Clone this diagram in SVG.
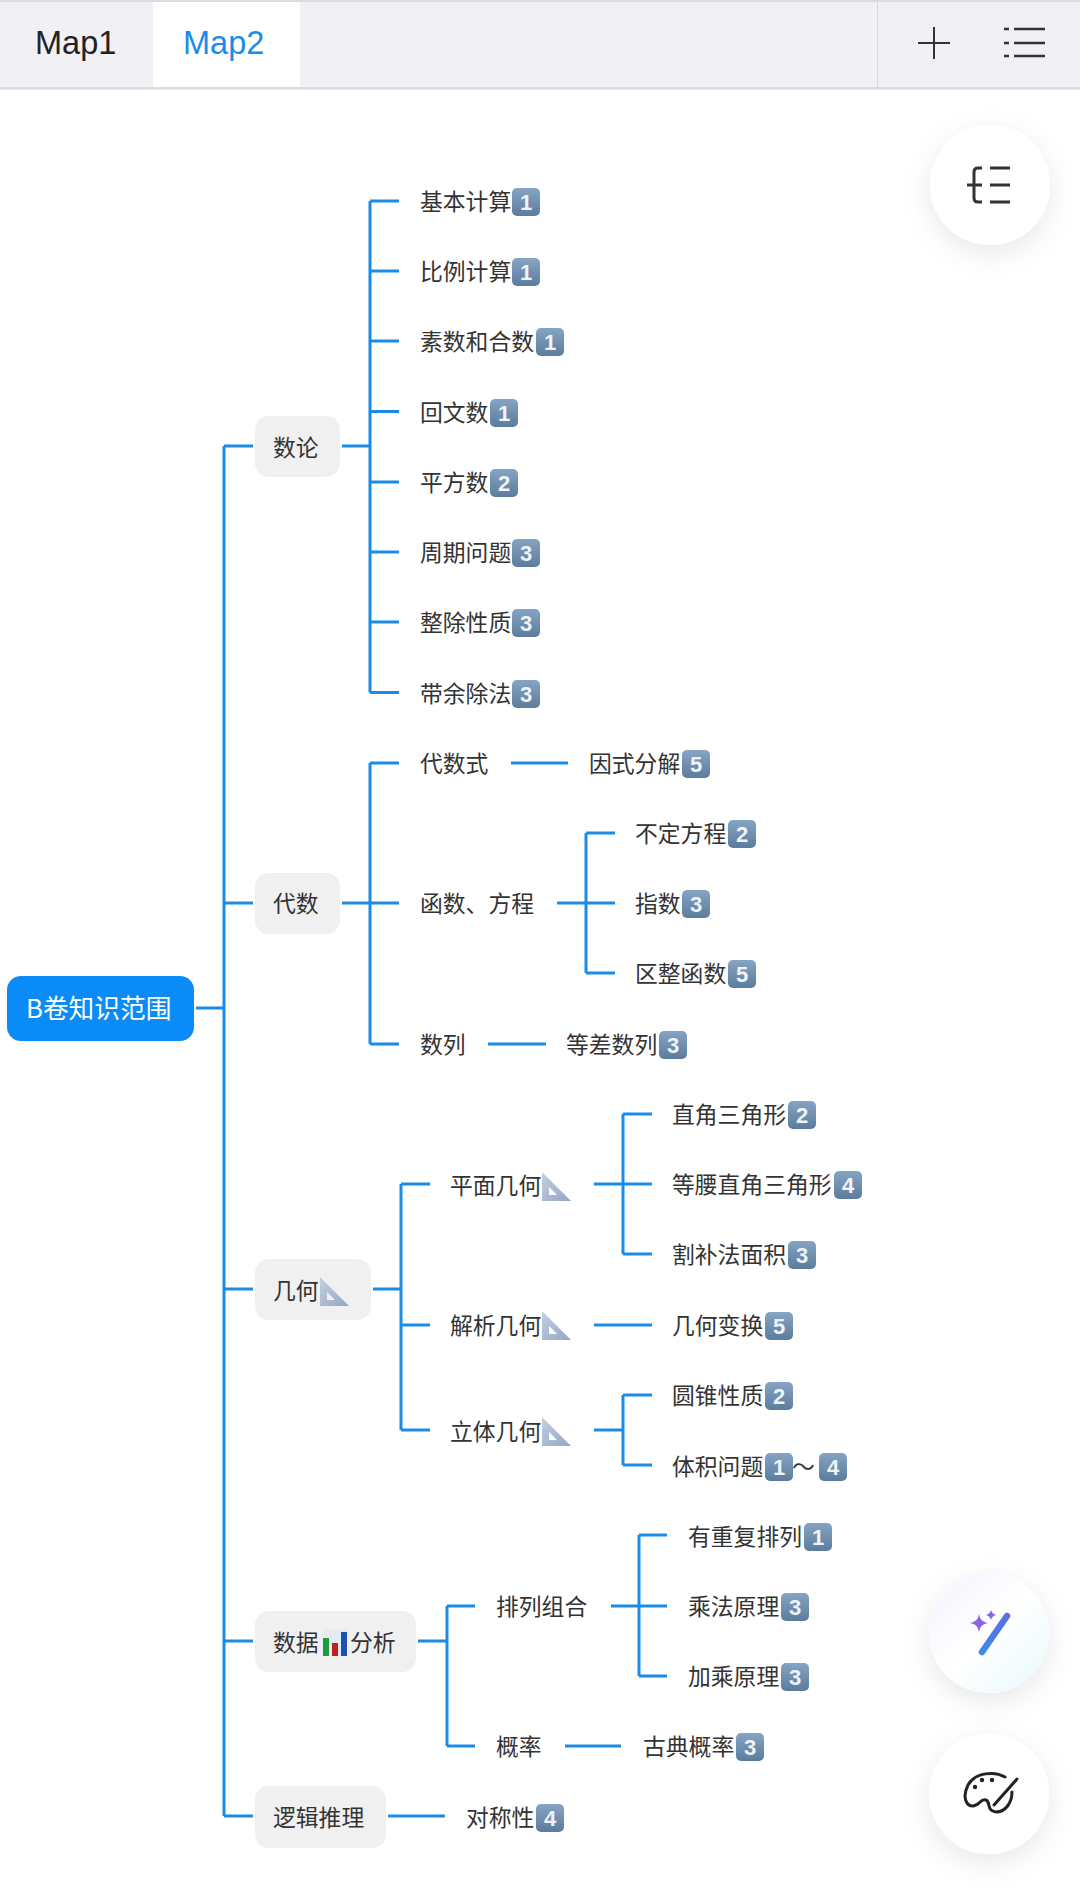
<svg xmlns="http://www.w3.org/2000/svg" width="1080" height="1886" viewBox="0 0 1080 1886">
<style>
.t{font-family:"Noto Sans CJK SC","Liberation Sans",sans-serif;font-size:22.8px;fill:#333;transform:translateY(.7px)}
.d{font-family:"Liberation Sans",Arial,sans-serif;font-size:22px;font-weight:700;fill:#eef3f8;text-anchor:middle;transform:translate(1px,.5px)}
.b{fill:#f0f0f0}
.c{fill:none;stroke:#1a8ce8;stroke-width:3}
.ic{fill:none;stroke:#333;stroke-width:3}
.tab{font-family:"Liberation Sans",Arial,sans-serif;font-size:32.5px}
</style>
<defs>
<linearGradient id="kg" x1="0" y1="0" x2="0" y2="1"><stop offset="0" stop-color="#86a4c3"/><stop offset="1" stop-color="#5c7c9d"/></linearGradient>
<linearGradient id="tg" x1="0" y1="0" x2="1" y2="1"><stop offset="0" stop-color="#c5cfe0"/><stop offset="1" stop-color="#95a5c6"/></linearGradient>
<linearGradient id="wg" x1="0" y1="0" x2="1" y2="1"><stop offset="0" stop-color="#f6f2fd"/><stop offset="0.5" stop-color="#ffffff"/><stop offset="1" stop-color="#e8f8fc"/></linearGradient>
<linearGradient id="sg" x1="0" y1="0" x2="0" y2="1"><stop offset="0" stop-color="#5b6fe0"/><stop offset="1" stop-color="#3f8ae8"/></linearGradient>
<filter id="sh" x="-40%" y="-40%" width="180%" height="180%"><feDropShadow dx="0" dy="8" stdDeviation="14" flood-color="#000" flood-opacity="0.09"/></filter>
<rect id="key" x="1" width="28" height="28" rx="5" fill="url(#kg)"/>
<path id="tri" d="M0 0L29 29H0ZM7 15V23H15Z" fill="url(#tg)" fill-rule="evenodd"/>
</defs>
<rect width="1080" height="1886" fill="#fff"/>

<g id="toolbar">
<rect width="1080" height="88" fill="#f0f0f5"/>
<rect width="1080" height="2" fill="#dcdce0"/>
<rect y="87" width="1080" height="2.5" fill="#dcdcdf"/>
<rect x="153" y="2" width="147" height="85" fill="#fff"/>
<rect x="877" y="2" width="1" height="85" fill="#d8d8dc"/>
<text class="tab" x="35" y="54" fill="#222">Map1</text>
<text class="tab" x="183" y="54" fill="#1a8ce8">Map2</text>
<path class="ic" style="stroke-width:2" d="M934 27V59M918 43H950"/>
<path class="ic" style="stroke-width:2.5" d="M1014 29H1045M1014 43H1045M1014 56H1045M1004 29H1009M1004 43H1009M1004 56H1009"/>
</g>

<g id="connectors">
<path class="c" d="M196 1008H224M224 446V1816M224 446H253M224 903H253M224 1289H253M224 1641H253M224 1816H253"/>
<path class="c" d="M342 446H370M370 201V692.5M370 201H399M370 271H399M370 341H399M370 411.5H399M370 482H399M370 552H399M370 622H399M370 692.5H399"/>
<path class="c" d="M342 903H399M370 763V1044M370 763H399M370 1044H399M511 763H568M557 903H615M586 833V973M586 833H615M586 973H615M488 1044H546"/>
<path class="c" d="M373 1289H401M401 1184V1430M401 1184H430M401 1325H430M401 1430H430M594 1184H652M623 1114V1254M623 1114H652M623 1254H652M594 1325H652M594 1430H623M623 1395V1465M623 1395H652M623 1465H652"/>
<path class="c" d="M418 1641H447M447 1606V1746M447 1606H475M447 1746H475M611 1606H667M639 1535V1676M639 1535H667M639 1676H667M565 1746H621"/>
<path class="c" d="M388 1816H445"/>
</g>

<g id="root"><rect x="7" y="976" width="187" height="65" rx="14" fill="#0a8bf8"/><text x="26" y="1017.5" font-family="'Noto Sans CJK SC','Liberation Sans',sans-serif" font-size="25.7" fill="#fff">B卷知识范围</text></g>

<g id="n-shulun"><rect class="b" x="255" y="416" width="85" height="61" rx="14"/><text class="t" x="273" y="455">数论</text></g>
<g id="n-daishu"><rect class="b" x="255" y="873" width="85" height="61" rx="14"/><text class="t" x="273" y="911">代数</text></g>
<g id="n-jihe"><rect class="b" x="255" y="1259" width="116" height="61" rx="14"/><text class="t" x="273" y="1298">几何</text><use href="#tri" x="320" y="1277"/></g>
<g id="n-shuju"><rect class="b" x="255" y="1611" width="161" height="61" rx="14"/><text class="t" x="273" y="1650">数据</text>
<rect x="322" y="1629" width="25" height="27" fill="#e4ecf2"/><rect x="323" y="1638" width="6" height="18" fill="#1f9a3f"/><rect x="332" y="1643" width="6" height="13" fill="#c0201f"/><rect x="341" y="1632" width="6" height="24" fill="#1d4fb5"/>
<text class="t" x="350" y="1650">分析</text></g>
<g id="n-luoji"><rect class="b" x="255" y="1786" width="131" height="62" rx="14"/><text class="t" x="273" y="1825">逻辑推理</text></g>

<g id="a1"><text class="t" x="420" y="209">基本计算</text><use href="#key" x="511" y="188"/><text class="d" x="525" y="209">1</text></g>
<g id="a2"><text class="t" x="420" y="279">比例计算</text><use href="#key" x="511" y="258"/><text class="d" x="525" y="279">1</text></g>
<g id="a3"><text class="t" x="420" y="349">素数和合数</text><use href="#key" x="535" y="328"/><text class="d" x="549" y="349">1</text></g>
<g id="a4"><text class="t" x="420" y="420">回文数</text><use href="#key" x="489" y="399"/><text class="d" x="503" y="420">1</text></g>
<g id="a5"><text class="t" x="420" y="490">平方数</text><use href="#key" x="489" y="469"/><text class="d" x="503" y="490">2</text></g>
<g id="a6"><text class="t" x="420" y="560">周期问题</text><use href="#key" x="511" y="539"/><text class="d" x="525" y="560">3</text></g>
<g id="a7"><text class="t" x="420" y="630">整除性质</text><use href="#key" x="511" y="609"/><text class="d" x="525" y="630">3</text></g>
<g id="a8"><text class="t" x="420" y="701">带余除法</text><use href="#key" x="511" y="680"/><text class="d" x="525" y="701">3</text></g>

<g id="b1"><text class="t" x="420" y="771">代数式</text></g>
<g id="b2"><text class="t" x="589" y="771">因式分解</text><use href="#key" x="681" y="750"/><text class="d" x="695" y="771">5</text></g>
<g id="b3"><text class="t" x="420" y="911">函数、方程</text></g>
<g id="b4"><text class="t" x="635" y="841">不定方程</text><use href="#key" x="727" y="820"/><text class="d" x="741" y="841">2</text></g>
<g id="b5"><text class="t" x="635" y="911">指数</text><use href="#key" x="681" y="890"/><text class="d" x="695" y="911">3</text></g>
<g id="b6"><text class="t" x="635" y="981">区整函数</text><use href="#key" x="727" y="960"/><text class="d" x="741" y="981">5</text></g>
<g id="b7"><text class="t" x="420" y="1052">数列</text></g>
<g id="b8"><text class="t" x="566" y="1052">等差数列</text><use href="#key" x="658" y="1031"/><text class="d" x="672" y="1052">3</text></g>

<g id="c1"><text class="t" x="450" y="1193">平面几何</text><use href="#tri" x="542" y="1172"/></g>
<g id="c2"><text class="t" x="672" y="1122">直角三角形</text><use href="#key" x="787" y="1101"/><text class="d" x="801" y="1122">2</text></g>
<g id="c3"><text class="t" x="672" y="1192">等腰直角三角形</text><use href="#key" x="833" y="1171"/><text class="d" x="847" y="1192">4</text></g>
<g id="c4"><text class="t" x="672" y="1262">割补法面积</text><use href="#key" x="787" y="1241"/><text class="d" x="801" y="1262">3</text></g>
<g id="c5"><text class="t" x="450" y="1333">解析几何</text><use href="#tri" x="542" y="1311"/></g>
<g id="c6"><text class="t" x="672" y="1333">几何变换</text><use href="#key" x="764" y="1312"/><text class="d" x="778" y="1333">5</text></g>
<g id="c7"><text class="t" x="450" y="1439">立体几何</text><use href="#tri" x="542" y="1417"/></g>
<g id="c8"><text class="t" x="672" y="1403">圆锥性质</text><use href="#key" x="764" y="1382"/><text class="d" x="778" y="1403">2</text></g>
<g id="c9"><text class="t" x="672" y="1474">体积问题</text><use href="#key" x="764" y="1453"/><text class="d" x="778" y="1474">1</text><text class="t" x="792" y="1474">～</text><use href="#key" x="818" y="1453"/><text class="d" x="832" y="1474">4</text></g>

<g id="d1"><text class="t" x="496" y="1614">排列组合</text></g>
<g id="d2"><text class="t" x="688" y="1544">有重复排列</text><use href="#key" x="803" y="1523"/><text class="d" x="817" y="1544">1</text></g>
<g id="d3"><text class="t" x="688" y="1614">乘法原理</text><use href="#key" x="780" y="1593"/><text class="d" x="794" y="1614">3</text></g>
<g id="d4"><text class="t" x="688" y="1684">加乘原理</text><use href="#key" x="780" y="1663"/><text class="d" x="794" y="1684">3</text></g>
<g id="d5"><text class="t" x="496" y="1754">概率</text></g>
<g id="d6"><text class="t" x="643" y="1754">古典概率</text><use href="#key" x="735" y="1733"/><text class="d" x="749" y="1754">3</text></g>
<g id="e1"><text class="t" x="466" y="1825">对称性</text><use href="#key" x="535" y="1804"/><text class="d" x="549" y="1825">4</text></g>

<g id="btn-outline"><circle cx="990" cy="185" r="60" fill="#fff" filter="url(#sh)"/>
<path class="ic" d="M982 168H978Q974 168 974 172V198Q974 202 978 202H982M967 185H982M990 168H1010M990 185H1010M990 202H1010"/></g>
<g id="btn-magic"><circle cx="989" cy="1633" r="60" fill="url(#wg)" filter="url(#sh)"/>
<path d="M982 1652L1007 1616" stroke="url(#sg)" stroke-width="6.5" stroke-linecap="round" fill="none"/>
<path d="M979 1614Q980 1622 988 1623Q980 1624 979 1632Q978 1624 970 1623Q978 1622 979 1614Z" fill="#8a63e8"/>
<path d="M991 1610Q992 1614 996 1615Q992 1616 991 1620Q990 1616 986 1615Q990 1614 991 1610Z" fill="#8a63e8"/></g>
<g id="btn-palette"><circle cx="989" cy="1794" r="60" fill="#fff" filter="url(#sh)"/>
<path d="M1005 1777C995 1771 975 1772 968 1785C962 1797 966 1806 973 1806C981 1805 980 1798 986 1800C991 1802 986 1811 996 1812C1006 1812 1012 1802 1012 1792" fill="none" stroke="#222" stroke-width="3" stroke-linecap="round"/>
<path d="M1017 1779L994 1805" stroke="#222" stroke-width="3" stroke-linecap="round"/>
<circle cx="975" cy="1787" r="2.2" fill="#222"/><circle cx="982" cy="1780" r="2.2" fill="#222"/><circle cx="992" cy="1780" r="2.2" fill="#222"/></g>
</svg>
